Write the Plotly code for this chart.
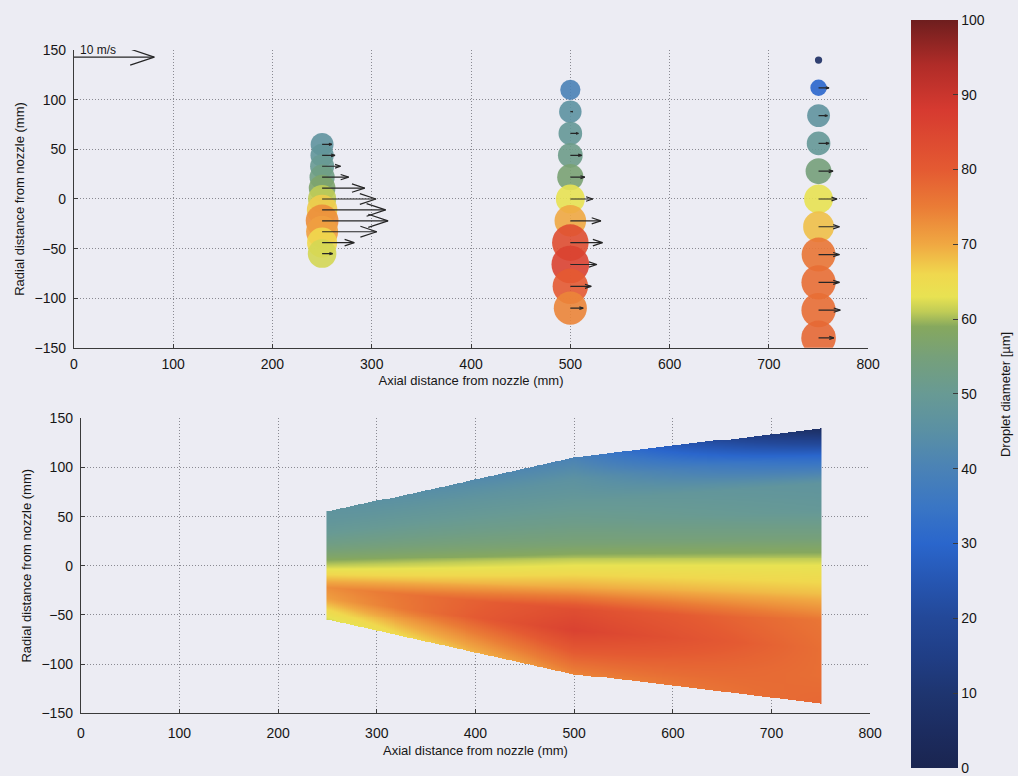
import numpy as np
import plotly.graph_objects as go

W, H = 1018, 776

# Measurement stations: axial distance from nozzle (mm)
stations = [250, 500, 750]

# Radial positions (mm) at each station, listed top to bottom
radial_250 = [55, 44, 33, 22, 11, 0, -11, -22, -33, -44, -55]
radial_500 = [110, 88, 66, 44, 22, 0, -22, -44, -66, -88, -110]
radial_750 = [140, 112, 84, 56, 28, 0, -28, -56, -84, -112, -140]

# Droplet diameter (um) at each point
diam_250 = [47, 48, 50, 53, 57, 61, 67, 73, 71, 66, 62]
diam_500 = [40, 46, 49, 52, 56, 63, 70, 83, 86, 80, 74]
diam_750 = [6, 30, 47, 49, 55, 63, 68, 76, 77, 77, 78]

# Axial velocity (m/s) at each point
vel_250 = [1.2, 1.6, 2.3, 3.3, 5.3, 6.7, 7.9, 8.2, 6.8, 4.0, 1.3]
vel_500 = [0.0, 0.3, 1.0, 1.4, 1.8, 2.8, 3.8, 4.0, 3.3, 2.6, 1.6]
vel_750 = [0.0, 1.3, 1.1, 1.3, 1.8, 2.3, 2.6, 2.6, 2.6, 2.7, 1.9]

# Colorbar ticks
cbar_ticks = [0, 10, 20, 30, 40, 50, 60, 70, 80, 90, 100]

radial = [radial_250, radial_500, radial_750]
diam = [diam_250, diam_500, diam_750]
vel = [vel_250, vel_500, vel_750]

# Quiver scaling: mm of axial distance per m/s, and the reference arrow
MM_PER_MS = 8.1
REF_SPEED = 10

colorscale = [
    [0.00, "#1a2550"], [0.05, "#1c2c60"], [0.10, "#1e3570"], [0.15, "#203e86"],
    [0.20, "#234898"], [0.25, "#2656b2"], [0.30, "#2a66cc"], [0.35, "#3a76c4"],
    [0.40, "#4a82b6"], [0.45, "#5a90a4"], [0.50, "#689a94"], [0.55, "#76a07a"],
    [0.59, "#86a85e"], [0.61, "#c0cc56"], [0.63, "#e8e252"], [0.66, "#f0d84e"],
    [0.70, "#f0a842"], [0.75, "#ea7c36"], [0.80, "#e45a32"], [0.88, "#d63a30"],
    [0.94, "#b02c28"], [1.00, "#6e1e1e"],
]

BG = "#ececf3"
GRID = "#8a8a92"
INK = "#161616"
FONT = "Liberation Sans, Arial, sans-serif"

# Axes boxes in pixels (left, right, top, bottom)
top_px = (71, 878, 43, 347)
bot_px = (78, 880, 419, 720)


def dom(box):
    l, r, t, b = box
    return [l / W, r / W], [1 - b / H, 1 - t / H]


top_xd, top_yd = dom(top_px)
bot_xd, bot_yd = dom(bot_px)

# pixel aspect of the upper axes (x px per mm over y px per mm)
aspect = ((top_px[1] - top_px[0]) / 800) / ((top_px[3] - top_px[2]) / 300)


def arrow(x0, y0, length):
    """Shaft plus open chevron head, in data coordinates."""
    if length <= 0:
        return [], []
    x1 = x0 + length
    hl = 0.3 * length
    hw = 0.1 * length * aspect
    xs = [x0, x1, None, x1 - hl, x1, x1 - hl, None]
    ys = [y0, y0, None, y0 + hw, y0, y0 - hw, None]
    return xs, ys


fig = go.Figure()

# Upper panel: droplet size markers and velocity arrows
for xs_, rs, ds in zip(stations, radial, diam):
    fig.add_trace(go.Scatter(
        x=[xs_] * len(rs), y=rs, mode="markers",
        marker=dict(color=ds, coloraxis="coloraxis",
                    size=[0.38 * d + 5 for d in ds],
                    opacity=0.9, line=dict(width=0)),
        xaxis="x", yaxis="y", showlegend=False, hoverinfo="skip",
    ))

ax, ay = [], []
for xs_, rs, vs in zip(stations, radial, vel):
    for r, v in zip(rs, vs):
        px_, py_ = arrow(xs_, r, v * MM_PER_MS)
        ax += px_
        ay += py_
ref_y = 143
px_, py_ = arrow(0, ref_y, REF_SPEED * MM_PER_MS)
ax += px_
ay += py_
fig.add_trace(go.Scatter(
    x=ax, y=ay, mode="lines", line=dict(color="#262626", width=1.2),
    xaxis="x", yaxis="y", showlegend=False, hoverinfo="skip",
))

fig.add_annotation(
    x=4, y=ref_y, xref="x", yref="y", text=f"{REF_SPEED} m/s",
    showarrow=False, xanchor="left", yanchor="bottom", yshift=-2,
    font=dict(size=12, color=INK, family=FONT),
)

# Lower panel: diameter field interpolated between the stations
xg = np.arange(250, 751, 2.0)
yg = np.arange(-150, 150.5, 1.0)
z = np.full((len(yg), len(xg)), np.nan)
r_arr = [np.array(r, float) for r in radial]
d_arr = [np.array(d, float) for d in diam]
for j, x in enumerate(xg):
    k = 0 if x <= stations[1] else 1
    t = (x - stations[k]) / (stations[k + 1] - stations[k])
    r = (1 - t) * r_arr[k] + t * r_arr[k + 1]
    d = (1 - t) * d_arr[k] + t * d_arr[k + 1]
    z[:, j] = np.interp(yg, r[::-1], d[::-1], left=np.nan, right=np.nan)

fig.add_trace(go.Heatmap(
    x=xg, y=yg, z=z, coloraxis="coloraxis", zsmooth=False,
    xaxis="x2", yaxis="y2", hoverongaps=False, hoverinfo="skip",
))

axis_common = dict(
    showgrid=True, gridcolor=GRID, griddash="1px,2px", gridwidth=1,
    zeroline=False, showline=True, linecolor="#3a3a3a", linewidth=1,
    ticks="inside", ticklen=4, tickcolor="#3a3a3a",
    tickfont=dict(size=14, color=INK, family=FONT),
    title_font=dict(size=13, color=INK, family=FONT),
)

xtick = [0, 100, 200, 300, 400, 500, 600, 700, 800]
ytick = [-150, -100, -50, 0, 50, 100, 150]

fig.update_layout(
    width=W, height=H,
    margin=dict(l=0, r=0, t=0, b=0),
    paper_bgcolor=BG, plot_bgcolor=BG,
    font=dict(family=FONT, color=INK),
    showlegend=False,
    xaxis=dict(domain=top_xd, range=[0, 800], tickvals=xtick, anchor="y",
               ticklabelstandoff=3,
               title=dict(text="Axial distance from nozzle (mm)", standoff=5),
               **axis_common),
    yaxis=dict(domain=top_yd, range=[-150, 150], tickvals=ytick, anchor="x",
               ticklabelstandoff=4,
               title=dict(text="Radial distance from nozzle (mm)", standoff=6),
               **axis_common),
    xaxis2=dict(domain=bot_xd, range=[0, 800], tickvals=xtick, anchor="y2",
                ticklabelstandoff=7,
                title=dict(text="Axial distance from nozzle (mm)", standoff=5),
                **axis_common),
    yaxis2=dict(domain=bot_yd, range=[-150, 150], tickvals=ytick, anchor="x2",
                ticklabelstandoff=4,
                title=dict(text="Radial distance from nozzle (mm)", standoff=6),
                **axis_common),
    coloraxis=dict(
        colorscale=colorscale, cmin=0, cmax=100,
        colorbar=dict(
            x=921 / W, xanchor="left", xpad=0, ypad=0,
            thickness=47, thicknessmode="pixels",
            len=764 / H, lenmode="fraction",
            y=1 - 394 / H, yanchor="middle",
            tickvals=cbar_ticks, ticks="inside", ticklen=5,
            tickcolor="#3a3a3a", outlinewidth=0,
            ticklabeloverflow="allow",
            tickfont=dict(size=14, color=INK, family=FONT),
        ),
    ),
)

# Colorbar label, set further out to the right of the tick labels
fig.add_annotation(
    x=1007 / W, y=1 - 395 / H, xref="paper", yref="paper",
    text="Droplet diameter [µm]", textangle=-90, showarrow=False,
    xanchor="center", yanchor="middle", xshift=11,
    font=dict(size=13, color=INK, family=FONT),
)

fig.write_html("out.html")
